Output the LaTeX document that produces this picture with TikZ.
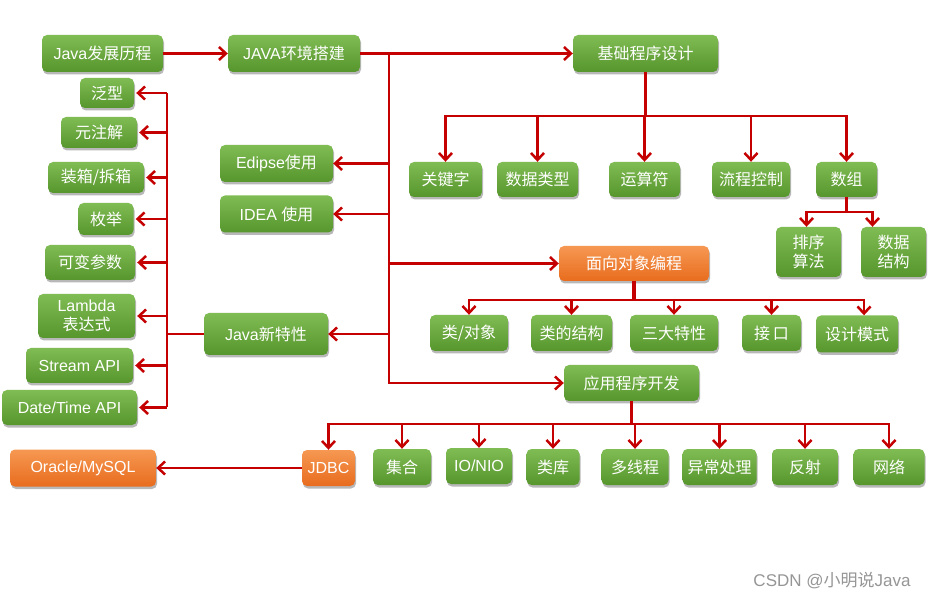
\documentclass[tikz,border=0pt]{standalone}
\usepackage{fontspec}
\setmainfont{Liberation Sans}
\newfontfamily\cjk{Noto Sans CJK SC}
\newfontfamily\lat{Liberation Sans}
\usetikzlibrary{arrows.meta,shadows}
\definecolor{lred}{RGB}{196,0,0}
\definecolor{gtop}{RGB}{128,188,84}
\definecolor{gbot}{RGB}{86,150,44}
\definecolor{otop}{RGB}{246,152,82}
\definecolor{obot}{RGB}{232,108,30}
\definecolor{wm}{RGB}{150,150,150}
\tikzset{
  box/.style={rounded corners=5pt, inner sep=0pt, text=white, align=center,
    font=\cjk\fontsize{16}{19}\selectfont,
    drop shadow={shadow xshift=1pt,shadow yshift=-2.5pt,fill=black,opacity=0.28}},
  gbox/.style={box, top color=gtop, bottom color=gbot},
  obox/.style={box, top color=otop, bottom color=obot},
  ln/.style={draw=lred, line width=2.5pt},
  stem/.style={draw=lred, line width=3.5pt},
  arr/.style={ln, -{Straight Barb[length=7pt,width=13pt,line width=2.5pt]}},
}
\newcommand{\bx}[7]{\node[#1, minimum width=#4pt, minimum height=#5pt] (#2) at (#6,#7) {#3};}
\begin{document}
\begin{tikzpicture}[x=1pt,y=-1pt]
\useasboundingbox[fill=white] (0,0) rectangle (929,601);
% top row
\bx{gbox}{hist}{{\lat Java}发展历程}{121}{37}{102.5}{53.5}
\bx{gbox}{env}{{\lat JAVA}环境搭建}{132}{37}{294}{53.5}
\bx{gbox}{basic}{基础程序设计}{145}{37}{645.5}{53.5}
% basic children
\bx{gbox}{kw}{关键字}{73}{35}{445.5}{179.5}
\bx{gbox}{dt}{数据类型}{81}{35}{537.5}{179.5}
\bx{gbox}{op}{运算符}{71}{35}{644.5}{179.5}
\bx{gbox}{flow}{流程控制}{78}{35}{751}{179.5}
\bx{gbox}{array}{数组}{61}{35}{846.5}{179.5}
\bx{gbox}{sort}{排序\\算法}{65}{50}{808.5}{252}
\bx{gbox}{ds}{数据\\结构}{65}{50}{893.5}{252}
% ides
\bx{gbox}{ecl}{{\lat Edipse}使用}{113}{37}{276.5}{163.5}
\bx{gbox}{idea}{{\lat IDEA }使用}{113}{37}{276.5}{214}
% oop
\bx{obox}{oop}{面向对象编程}{150}{35}{634}{263.5}
\bx{gbox}{cls}{类/对象}{78}{36}{469}{333}
\bx{gbox}{clsst}{类的结构}{81}{36}{571.5}{333}
\bx{gbox}{three}{三大特性}{88}{36}{674}{333}
\bx{gbox}{intf}{接\,口}{59}{36}{771.5}{333}
\bx{gbox}{dp}{设计模式}{82}{37}{857}{334}
% new features
\bx{gbox}{newf}{{\lat Java}新特性}{124}{42}{266}{334}
\bx{gbox}{gen}{泛型}{54}{30}{107}{93}
\bx{gbox}{anno}{元注解}{76}{31}{99}{132.5}
\bx{gbox}{boxing}{装箱/拆箱}{96}{31}{96}{177.5}
\bx{gbox}{enum}{枚举}{55}{32}{106}{219}
\bx{gbox}{varg}{可变参数}{90}{35}{90}{262.5}
\bx{gbox}{lam}{{\lat Lambda}\\表达式}{97}{44}{86.5}{316}
\bx{gbox}{stream}{\lat Stream API}{107}{35}{79.5}{365.5}
\bx{gbox}{date}{\lat Date/Time API}{135}{35}{69.5}{407.5}
% app
\bx{gbox}{app}{应用程序开发}{135}{36}{631.5}{383}
\bx{obox}{jdbc}{\lat JDBC}{53}{36}{328.5}{468}
\bx{obox}{ora}{\lat Oracle/MySQL}{146}{37}{83}{468}
\bx{gbox}{coll}{集合}{58}{36}{402}{467}
\bx{gbox}{io}{\lat IO/NIO}{66}{36}{479}{466}
\bx{gbox}{lib}{类库}{53}{36}{553}{467}
\bx{gbox}{thr}{多线程}{67}{36}{635}{467}
\bx{gbox}{exc}{异常处理}{74}{36}{719.5}{467}
\bx{gbox}{refl}{反射}{66}{36}{805}{467}
\bx{gbox}{net}{网络}{71}{36}{889}{467}
% watermark
\node[text=wm, font=\cjk\fontsize{17}{20}\selectfont, anchor=center] (wmk) at (832,581) {{\lat CSDN @}小明说{\lat Java}};

% connectors
\coordinate (sp) at (389,53.5);
\draw[arr] (hist.east) -- (env.west);
\draw[arr] (env.east) -- (basic.west);
\draw[arr] (sp) |- (app.west);
\draw[arr] (sp |- ecl.east) -- (ecl.east);
\draw[arr] (sp |- idea.east) -- (idea.east);
\draw[arr] (sp |- oop.west) -- (oop.west);
\draw[arr] (sp |- newf.east) -- (newf.east);

% basic tree
\coordinate (bb) at (645.5,116);
\draw[stem] (basic.south) -- (basic.south |- bb);
\foreach \c in {kw,dt,op,flow,array} \draw[arr] (basic.south |- bb) -| (\c.north);
\coordinate (ab) at (847,212);
\draw[ln] (array.south) -- (array.south |- ab);
\draw[arr] (array.south |- ab) -| ([xshift=-2pt]sort.north);
\draw[arr] (array.south |- ab) -| ([xshift=-21pt]ds.north);

% oop tree
\coordinate (ob) at (634,300);
\draw[stem] (oop.south) -- (oop.south |- ob);
\foreach \c in {cls,clsst,three,intf} \draw[arr] (oop.south |- ob) -| (\c.north);
\draw[arr] (oop.south |- ob) -| ([xshift=7pt]dp.north);

% new features tree
\coordinate (nb) at (167,334);
\draw[ln] (newf.west) -- (newf.west -| nb);
\draw[ln] (nb |- gen.east) -- (nb |- date.east);
\foreach \c in {gen,anno,boxing,enum,varg,lam,stream,date}
  \draw[arr, shorten >=2pt] (nb |- \c.east) -- (\c.east);

% app tree
\coordinate (pb) at (631.5,424);
\draw[stem] (app.south) -- (app.south |- pb);
\foreach \c in {jdbc,coll,io,lib,thr,exc,refl,net} \draw[arr] (app.south |- pb) -| (\c.north);
\draw[arr] (jdbc.west) -- (ora.east);
\end{tikzpicture}
\end{document}
